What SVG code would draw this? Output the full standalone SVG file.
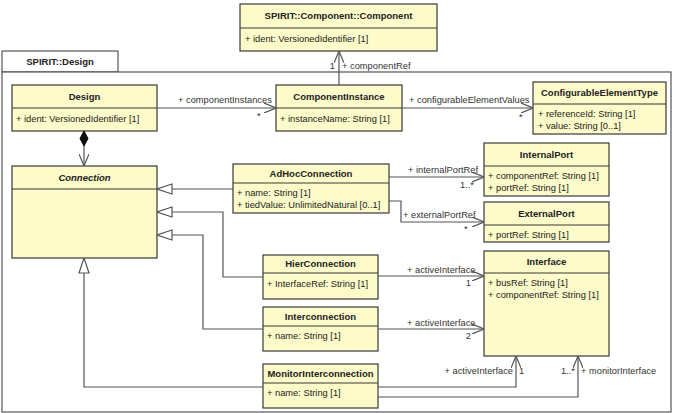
<svg xmlns="http://www.w3.org/2000/svg" width="676" height="413" viewBox="0 0 676 413">
<defs>
<style>
.cls{fill:#fdfbc9;stroke:#3a3a3a;stroke-width:1.2}
.pkg{fill:#ffffff;stroke:#555;stroke-width:1.2}
.t{font-family:"Liberation Sans",Arial,sans-serif;font-size:9.3px;fill:#222}
.h{font-family:"Liberation Sans",Arial,sans-serif;font-size:9.5px;font-weight:bold;fill:#222;text-anchor:middle}
.l{font-family:"Liberation Sans",Arial,sans-serif;font-size:9.3px;fill:#333}
.e{fill:none;stroke:#555;stroke-width:1.2}
.r{text-anchor:end}
</style>
<marker id="open" viewBox="0 0 12 10" refX="12" refY="5" markerWidth="12" markerHeight="10" markerUnits="userSpaceOnUse" orient="auto">
<path d="M0,0 L12,5 L0,10" fill="none" stroke="#555" stroke-width="1.2"/>
</marker>
<marker id="tri" viewBox="0 0 16 12" refX="15.5" refY="6" markerWidth="16" markerHeight="12" markerUnits="userSpaceOnUse" orient="auto">
<path d="M0.5,1 L15.5,6 L0.5,11 Z" fill="#fff" stroke="#555" stroke-width="1.2"/>
</marker>
<marker id="dia" viewBox="0 0 16 10" refX="0.5" refY="5" markerWidth="16" markerHeight="10" markerUnits="userSpaceOnUse" orient="auto">
<path d="M0.5,5 L8,1 L15.5,5 L8,9 Z" fill="#111" stroke="#111" stroke-width="1"/>
</marker>
</defs>
<rect width="676" height="413" fill="#fff"/>

<g id="package">
<rect class="pkg" x="2" y="51" width="116" height="21"/>
<rect class="pkg" x="2" y="72" width="669" height="340"/>
<text class="h" x="60" y="65">SPIRIT::Design</text>
</g>

<g id="component">
<rect class="cls" x="240" y="4" width="197" height="47"/>
<line class="cls" x1="240" y1="28" x2="437" y2="28"/>
<text class="h" x="338.5" y="19">SPIRIT::Component::Component</text>
<text class="t" x="245" y="42">+ ident: VersionedIdentifier [1]</text>
</g>

<g id="design">
<rect class="cls" x="12" y="85" width="145" height="46"/>
<line class="cls" x1="12" y1="108" x2="157" y2="108"/>
<text class="h" x="84.5" y="100">Design</text>
<text class="t" x="16" y="122">+ ident: VersionedIdentifier [1]</text>
</g>

<g id="componentInstance">
<rect class="cls" x="276" y="85" width="126" height="46"/>
<line class="cls" x1="276" y1="108" x2="402" y2="108"/>
<text class="h" x="339" y="100">ComponentInstance</text>
<text class="t" x="280" y="122">+ instanceName: String [1]</text>
</g>

<g id="configurableElementType">
<rect class="cls" x="533" y="82" width="133" height="52"/>
<line class="cls" x1="533" y1="104" x2="666" y2="104"/>
<text class="h" x="599.5" y="96">ConfigurableElementType</text>
<text class="t" x="538" y="117">+ referenceId: String [1]</text>
<text class="t" x="538" y="129">+ value: String [0..1]</text>
</g>

<g id="connection">
<rect class="cls" x="12" y="166" width="145" height="92"/>
<line class="cls" x1="12" y1="189" x2="157" y2="189"/>
<text class="h" x="84.5" y="181" font-style="italic">Connection</text>
</g>

<g id="adHocConnection">
<rect class="cls" x="233" y="164" width="156" height="49"/>
<line class="cls" x1="233" y1="183" x2="389" y2="183"/>
<text class="h" x="311" y="177">AdHocConnection</text>
<text class="t" x="237" y="196">+ name: String [1]</text>
<text class="t" x="237" y="208">+ tiedValue: UnlimitedNatural [0..1]</text>
</g>

<g id="internalPort">
<rect class="cls" x="484" y="143" width="125" height="53"/>
<line class="cls" x1="484" y1="166" x2="609" y2="166"/>
<text class="h" x="546.5" y="158">InternalPort</text>
<text class="t" x="488" y="179">+ componentRef: String [1]</text>
<text class="t" x="488" y="191">+ portRef: String [1]</text>
</g>

<g id="externalPort">
<rect class="cls" x="484" y="202" width="125" height="40"/>
<line class="cls" x1="484" y1="225" x2="609" y2="225"/>
<text class="h" x="546.5" y="217">ExternalPort</text>
<text class="t" x="488" y="238">+ portRef: String [1]</text>
</g>

<g id="interface">
<rect class="cls" x="484" y="251" width="125" height="105"/>
<line class="cls" x1="484" y1="273" x2="609" y2="273"/>
<text class="h" x="546.5" y="265">Interface</text>
<text class="t" x="488" y="286">+ busRef: String [1]</text>
<text class="t" x="488" y="298">+ componentRef: String [1]</text>
</g>

<g id="hierConnection">
<rect class="cls" x="263" y="255" width="115" height="44"/>
<line class="cls" x1="263" y1="273" x2="378" y2="273"/>
<text class="h" x="320.5" y="267">HierConnection</text>
<text class="t" x="267" y="287">+ InterfaceRef: String [1]</text>
</g>

<g id="interconnection">
<rect class="cls" x="263" y="307" width="115" height="44"/>
<line class="cls" x1="263" y1="326" x2="378" y2="326"/>
<text class="h" x="320.5" y="320">Interconnection</text>
<text class="t" x="267" y="339">+ name: String [1]</text>
</g>

<g id="monitorInterconnection">
<rect class="cls" x="263" y="364" width="115" height="44"/>
<line class="cls" x1="263" y1="383" x2="378" y2="383"/>
<text class="h" x="320.5" y="377">MonitorInterconnection</text>
<text class="t" x="267" y="396">+ name: String [1]</text>
</g>

<g id="connectors">
<path class="e" d="M339,85 V51" marker-end="url(#open)"/>
<text class="l r" x="335" y="69">1</text>
<text class="l" x="342" y="69">+ componentRef</text>

<path class="e" d="M157,108 H276" marker-end="url(#open)"/>
<text class="l" x="178" y="103">+ componentInstances</text>
<text class="l" x="257" y="119">*</text>

<path class="e" d="M402,108 H533" marker-end="url(#open)"/>
<text class="l" x="409" y="103">+ configurableElementValues</text>
<text class="l" x="519" y="120">*</text>

<path class="e" d="M84,131 V166" marker-start="url(#dia)" marker-end="url(#open)"/>

<path class="e" d="M233,189 H157" marker-end="url(#tri)"/>
<path class="e" d="M263,277 H223 V212 H157" marker-end="url(#tri)"/>
<path class="e" d="M263,329 H203 V235 H157" marker-end="url(#tri)"/>
<path class="e" d="M263,387 H84 V258" marker-end="url(#tri)"/>

<path class="e" d="M389,177 H484" marker-end="url(#open)"/>
<text class="l" x="408" y="173">+ internalPortRef</text>
<text class="l r" x="474" y="188">1..*</text>

<path class="e" d="M389,201 H401 V222 H484" marker-end="url(#open)"/>
<text class="l" x="403" y="218">+ externalPortRef</text>
<text class="l" x="464" y="232">*</text>

<path class="e" d="M378,276 H484" marker-end="url(#open)"/>
<text class="l" x="407" y="273">+ activeInterface</text>
<text class="l r" x="471" y="286">1</text>

<path class="e" d="M378,329 H484" marker-end="url(#open)"/>
<text class="l" x="407" y="326">+ activeInterface</text>
<text class="l r" x="471" y="339">2</text>

<path class="e" d="M378,387 H516 V356" marker-end="url(#open)"/>
<text class="l r" x="513" y="374">+ activeInterface</text>
<text class="l" x="519" y="374">1</text>

<path class="e" d="M378,397 H578 V356" marker-end="url(#open)"/>
<text class="l r" x="575" y="374">1..*</text>
<text class="l" x="581" y="374">+ monitorInterface</text>
</g>
</svg>
